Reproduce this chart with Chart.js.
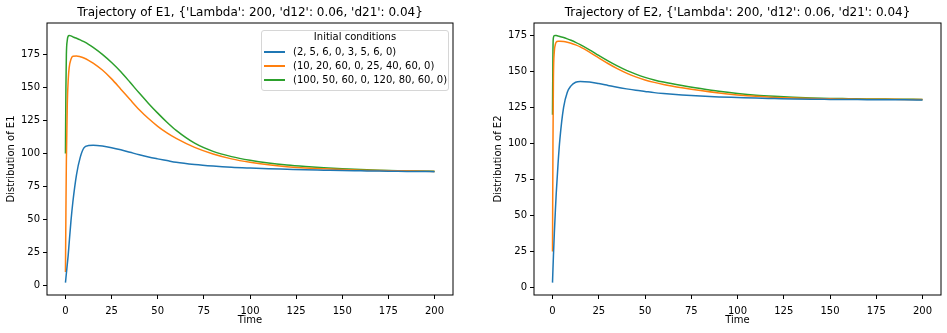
<!DOCTYPE html>
<html lang="en">
  <head>
    <meta charset="UTF-8" />
    <meta name="viewport" content="width=device-width, initial-scale=1.0" />
    <script src="https://cdn.jsdelivr.net/npm/chart.js@4.4.1/dist/chart.umd.min.js"></script>
    <title>Trajectories of E1 and E2</title>
    <style>
      body {
        margin: 0;
        background: #fff;
      }
      .wrap {
        position: relative;
        width: 947px;
        height: 333px;
        font-family: "DejaVu Sans", sans-serif;
      }
      .wrap canvas {
        position: absolute;
        top: 0;
      }
      #chartE1 {
        left: 0;
      }
      #chartE2 {
        left: 473px;
      }
      .legend {
        position: absolute;
        left: 261px;
        top: 30px;
        width: 188px;
        height: 61px;
        box-sizing: border-box;
        border: 1px solid #d6d6d6;
        border-radius: 3px;
        background: #fff;
        font-size: 10px;
        color: #000;
      }
      .legend_title {
        margin: 0;
        line-height: 11px;
        text-align: center;
      }
      .legend ul {
        list-style: none;
        margin: 3px 0 0;
        padding: 0;
      }
      .legend li {
        height: 14px;
        line-height: 14px;
        white-space: nowrap;
      }
      .legend .handle {
        display: inline-block;
        width: 21px;
        height: 2px;
        margin: 0 8px 0 2px;
        vertical-align: middle;
      }
    </style>
  </head>
  <body>
    <div class="wrap">
      <canvas id="chartE1" width="473" height="333"></canvas>
      <canvas id="chartE2" width="474" height="333"></canvas>
      <div class="legend">
        <p class="legend_title">Initial conditions</p>
        <ul id="legendList"></ul>
      </div>
    </div>

    <script>
      const params = "{'Lambda': 200, 'd12': 0.06, 'd21': 0.04}";
      const conditions = [
        "(2, 5, 6, 0, 3, 5, 6, 0)",
        "(10, 20, 60, 0, 25, 40, 60, 0)",
        "(100, 50, 60, 0, 120, 80, 60, 0)",
      ];
      const colors = ["#1f77b4", "#ff7f0e", "#2ca02c"];

      const time = [
        0, 0.25, 0.5, 1, 1.5, 2, 3, 4, 6, 8, 10, 12.5, 15, 20, 25, 30, 35, 40,
        45, 50, 55, 60, 70, 80, 90, 100, 110, 120, 130, 140, 150, 160, 170, 180,
        190, 200,
      ];

      // E1, one list per initial condition
      const e1Blue = [
        2, 5.5, 9, 16, 23, 32, 49, 63, 84, 97, 104.2, 106, 106.2, 105.6, 104.4,
        102.8, 100.9, 99, 97.3, 95.9, 94.6, 93.3, 91.6, 90.4, 89.5, 88.9, 88.4,
        88, 87.6, 87.3, 87, 86.8, 86.6, 86.5, 86.3, 86.2,
      ];
      const e1Orange = [
        10, 55, 95, 138, 156, 165, 171.5, 173.8, 174, 173.4, 172.4, 170.7, 168.6,
        163.3, 156.6, 148.8, 140.9, 133.2, 126.5, 120.6, 115.6, 111.4, 104.6,
        99.6, 95.9, 93.3, 91.4, 90, 89, 88.4, 87.8, 87.3, 87, 86.8, 86.6, 86.4,
      ];
      const e1Green = [
        100, 150, 175, 186, 189, 189.5, 189.2, 188.5, 187.4, 186.2, 184.8, 182.8,
        180.5, 175.2, 169, 162, 154, 145.8, 138, 130.6, 123.7, 117.5, 107.8,
        101.6, 97.6, 94.8, 92.7, 91.2, 90.1, 89.2, 88.4, 87.8, 87.3, 86.9, 86.7,
        86.5,
      ];

      // E2
      const e2Blue = [
        3.5, 13, 22, 38, 52, 65, 86, 103, 125, 135.5, 140, 142.5, 143.1, 142.7,
        141.6, 140.3, 139, 137.9, 136.9, 136.1, 135.3, 134.7, 133.7, 132.9,
        132.3, 131.9, 131.5, 131.2, 130.9, 130.7, 130.6, 130.5, 130.4, 130.3,
        130.3, 130.2,
      ];
      const e2Orange = [
        25, 100, 145, 164, 168.5, 170.3, 171, 171, 170.8, 170.3, 169.6, 168.4,
        167, 163.4, 159.4, 155.5, 151.9, 148.8, 146.2, 144.1, 142.4, 141, 138.7,
        136.7, 135, 133.7, 132.7, 132, 131.5, 131.2, 131, 130.8, 130.7, 130.7,
        130.6, 130.6,
      ];
      const e2Green = [
        120, 165, 173.5, 174.8, 175, 174.9, 174.6, 174.2, 173.5, 172.6, 171.6,
        170.2, 168.6, 165, 161.1, 157.3, 153.8, 150.7, 148.1, 145.9, 144.1, 142.6,
        140.2, 138.1, 136.2, 134.7, 133.5, 132.7, 132.1, 131.6, 131.3, 131.1,
        130.9, 130.8, 130.7, 130.6,
      ];

      // axes box like matplotlib (all four spines)
      const frame = {
        id: "frame",
        afterDatasetsDraw(chart) {
          const { ctx, chartArea } = chart;
          ctx.save();
          ctx.strokeStyle = "#000";
          ctx.lineWidth = 1;
          ctx.strokeRect(
            chartArea.left,
            chartArea.top,
            chartArea.right - chartArea.left,
            chartArea.bottom - chartArea.top
          );
          ctx.restore();
        },
      };

      const toPoints = (values) => values.map((v, i) => ({ x: time[i], y: v }));

      function makeChart(id, name, series, yMin, yMax, padLeft, padRight) {
        const datasets = series.map((values, i) => ({
          label: conditions[i],
          data: toPoints(values),
          borderColor: colors[i],
          backgroundColor: colors[i],
          borderWidth: 1.5,
          pointRadius: 0,
          cubicInterpolationMode: "monotone",
          borderJoinStyle: "round",
        }));

        const font10 = { family: "DejaVu Sans", size: 10 };
        const gridStyle = {
          drawOnChartArea: false,
          drawTicks: true,
          tickLength: 4,
          color: "#000",
          lineWidth: 1,
        };

        const config = {
          type: "line",
          data: { datasets: datasets },
          options: {
            responsive: false,
            animation: false,
            events: [],
            layout: {
              padding: { left: padLeft, right: padRight, top: 0, bottom: 0 },
            },
            plugins: {
              legend: { display: false },
              tooltip: { enabled: false },
              title: {
                display: true,
                fullSize: false,
                text: "Trajectory of " + name + ", " + params,
                color: "#000",
                font: { family: "DejaVu Sans", size: 12, weight: "normal" },
                padding: { top: 6, bottom: 2.6 },
              },
            },
            scales: {
              x: {
                type: "linear",
                min: -10,
                max: 210,
                ticks: {
                  color: "#000",
                  font: font10,
                  autoSkip: false,
                  includeBounds: false,
                  stepSize: 25,
                  maxRotation: 0,
                  padding: 6,
                },
                grid: gridStyle,
                border: { display: false },
                title: {
                  display: true,
                  text: "Time",
                  color: "#000",
                  font: font10,
                  padding: { top: 0, bottom: 7 },
                },
                afterFit: (scale) => {
                  scale.height = 38;
                },
              },
              y: {
                type: "linear",
                min: yMin,
                max: yMax,
                ticks: {
                  color: "#000",
                  font: font10,
                  autoSkip: false,
                  includeBounds: false,
                  stepSize: 25,
                  padding: 3,
                },
                grid: gridStyle,
                border: { display: false },
                title: {
                  display: true,
                  text: "Distribution of " + name,
                  color: "#000",
                  font: font10,
                  padding: { top: 5, bottom: 0 },
                },
                afterFit: (scale) => {
                  scale.width = 47;
                },
              },
            },
          },
          plugins: [frame],
        };

        return new Chart(document.getElementById(id), config);
      }

      const chartE1 = makeChart(
        "chartE1",
        "E1",
        [e1Blue, e1Orange, e1Green],
        -7.4,
        199,
        0,
        20
      );
      const chartE2 = makeChart(
        "chartE2",
        "E2",
        [e2Blue, e2Orange, e2Green],
        -5.1,
        183.6,
        14,
        6
      );

      // legend lives in the first panel
      const legendList = document.getElementById("legendList");
      conditions.forEach((text, i) => {
        const li = document.createElement("li");
        const handle = document.createElement("span");
        handle.className = "handle";
        handle.style.background = colors[i];
        li.appendChild(handle);
        li.appendChild(document.createTextNode(text));
        legendList.appendChild(li);
      });
    </script>
  </body>
</html>
